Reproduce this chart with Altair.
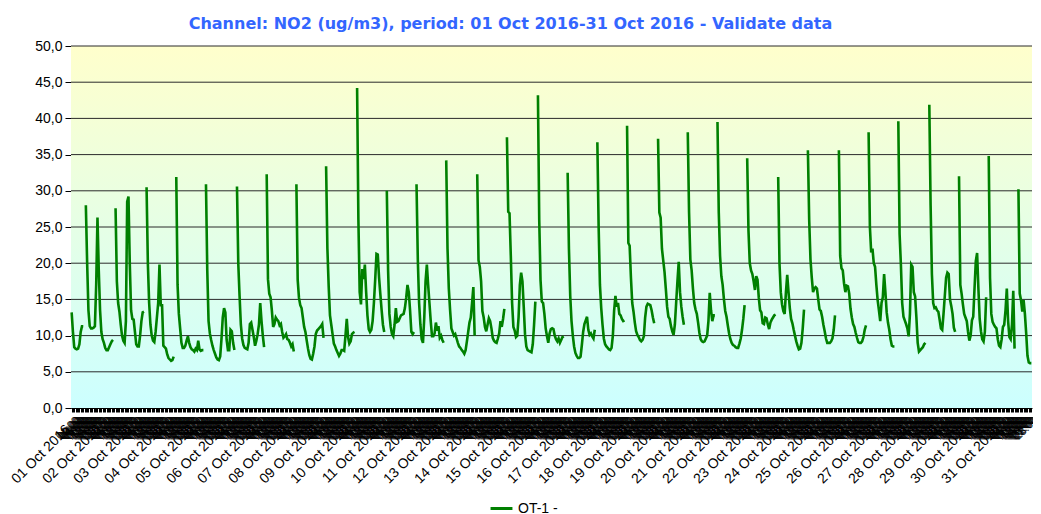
import json
import altair as alt
import pandas as pd

TITLE = "Channel: NO2 (ug/m3), period: 01 Oct 2016-31 Oct 2016 - Validate data"
SERIES = "OT-1 -"
N = None

# hourly NO2 values (ug/m3), one list of 24 hours per day; None = missing hour
d01 = [13.2, 10.5, 8.4, 8.2, 8.1, 8.2, 8.8, 10.5, 11.3, 11.3, N, 28.0, 20.0, 13.5, 11.3, 11.0, 11.0, 11.1, 11.3, 17.0, 26.3, 19.0, 13.5, 10.5]
d02 = [9.5, 9.0, 8.3, 8.0, 8.0, 8.4, 8.8, 9.2, 9.4, N, 27.6, 17.5, 14.5, 13.3, 11.5, 10.0, 9.3, 9.0, 12.0, 28.5, 29.2, 20.0, 13.5, 12.3]
d03 = [12.2, 10.5, 8.8, 8.5, 8.5, 10.0, 12.0, 13.2, 13.3, N, 30.5, 20.0, 14.5, 11.5, 10.0, 9.3, 9.1, 10.5, 12.5, 14.5, 19.8, 14.2, 14.2, 8.6]
d04 = [8.4, 8.2, 7.4, 6.9, 6.7, 6.5, 6.6, 7.1, N, 31.9, 17.0, 13.0, 11.0, 9.0, 8.3, 8.3, 8.6, 9.3, 9.9, 9.0, 8.4, 8.1, 8.0, 7.8]
d05 = [8.2, 8.0, 9.3, 8.1, 7.9, 8.0, 8.0, N, 30.9, 19.0, 12.0, 10.3, 9.4, 8.6, 8.0, 7.5, 7.0, 6.7, 6.6, 7.1, 9.5, 12.5, 13.8, 13.2]
d06 = [9.4, 8.0, 8.0, 10.8, 10.6, 9.0, 8.0, N, 30.6, 20.0, 15.5, 11.5, 9.6, 8.7, 8.3, 8.2, 8.1, 9.0, 11.6, 11.8, 10.8, 9.8, 8.6, 9.3]
d07 = [10.2, 11.5, 14.5, 12.0, 10.0, 8.4, N, 32.3, 17.8, 15.8, 15.3, 13.5, 11.2, 11.6, 12.5, 12.2, 12.0, 11.4, 11.6, 10.5, 9.7, 9.9, 10.2, 9.5]
d08 = [9.4, 9.0, 8.5, 8.8, 7.8, N, 30.9, 17.7, 15.2, 14.2, 13.8, 12.5, 11.2, 10.5, 9.3, 8.2, 7.3, 6.8, 6.7, 7.5, 8.5, 10.2, 10.7, 10.9]
d09 = [11.1, 11.3, 11.6, 9.7, N, 33.4, 22.0, 16.8, 12.8, 11.5, 10.2, 8.9, 8.5, 8.0, 7.6, 7.2, 7.5, 8.0, 8.0, 7.9, 10.0, 12.3, 9.8, 8.9]
d10 = [9.2, 10.2, 10.4, 10.5, N, 44.2, 26.0, 16.0, 14.3, 19.2, 17.8, 19.8, 16.0, 12.8, 10.9, 10.5, 10.8, 12.0, 14.5, 17.7, 21.3, 21.2, 18.0, 15.7]
d11 = [13.5, 11.5, 10.5, N, 30.0, 19.0, 13.0, 11.2, 10.2, 9.9, 11.5, 13.8, 11.9, 12.0, 12.4, 12.8, 12.9, 13.0, 13.8, 15.2, 17.0, 16.0, 13.5, 10.5]
d12 = [10.2, 10.5, N, 30.9, 20.5, 14.5, 11.5, 9.5, 9.0, 12.5, 17.5, 19.8, 17.0, 14.5, 12.0, 9.9, 9.9, 10.3, 11.8, 10.7, 11.3, 9.7, 10.0, 9.4]
d13 = [9.0, N, 34.2, 22.0, 16.5, 13.5, 11.0, 10.5, 10.0, 10.2, 9.6, 9.0, 8.5, 8.3, 8.0, 7.8, 7.5, 8.0, 9.2, 10.5, 11.8, 12.5, 14.5, 16.7]
d14 = [10.0, N, 32.3, 20.4, 19.5, 17.5, 13.4, 12.5, 11.2, 10.6, 11.5, 12.4, 12.0, 11.0, 9.7, 9.3, 9.1, 9.0, 9.6, 10.3, 12.0, 11.2, 12.3, 13.7]
d15 = [N, 37.4, 27.1, 26.9, 21.0, 14.5, 11.2, 10.7, 9.8, 10.0, 12.5, 17.0, 18.7, 17.5, 14.0, 10.2, 8.5, 8.0, 7.9, 7.8, 7.7, 8.8, 11.5, 14.7]
d16 = [N, 43.2, 26.0, 17.7, 14.7, 14.5, 13.0, 11.0, 9.9, 9.0, 10.3, 10.9, 11.0, 10.9, 10.0, 9.5, 9.2, 9.6, 9.0, 9.4, 9.8, 9.9, N, N]
d17 = [32.5, 22.0, 15.5, 12.0, 10.0, 8.5, 7.6, 7.2, 6.9, 6.9, 7.1, 8.7, 10.5, 11.6, 12.1, 12.6, 10.8, 10.1, 10.3, 9.9, 9.6, 10.8, N, 36.7]
d18 = [25.0, 17.0, 13.8, 11.5, 9.6, 8.8, 8.5, 8.3, 8.1, 8.0, 8.3, 10.0, 13.5, 15.5, 14.0, 14.5, 13.0, 12.8, 12.3, 12.0, 12.1, N, 39.0, 22.8]
d19 = [22.4, 18.0, 14.5, 13.3, 11.8, 10.6, 10.1, 9.8, 9.4, 9.2, 9.4, 9.9, 12.5, 14.0, 14.4, 14.3, 14.2, 13.5, 12.5, 11.7, N, N, 37.2, 27.0]
d20 = [26.3, 22.0, 20.4, 18.8, 16.5, 14.0, 12.6, 12.3, 11.3, 10.6, 10.1, 11.5, 14.5, 17.5, 20.2, 16.0, 14.0, 12.6, 11.5, N, N, 38.1, 27.0, 20.5]
d21 = [19.0, 16.5, 14.5, 13.6, 13.0, 11.8, 10.4, 9.5, 9.2, 9.1, 9.2, 9.6, 10.0, 12.0, 15.9, 13.5, 12.0, 12.8, 12.8, N, 39.5, 27.0, 21.0, 18.2]
d22 = [17.0, 15.0, 13.4, 12.6, 11.4, 10.3, 9.5, 9.0, 8.7, 8.6, 8.4, 8.3, 8.3, 8.9, 9.6, 10.8, 12.3, 14.2, N, 34.5, 24.5, 20.0, 19.0, 18.5]
d23 = [17.5, 16.3, 18.2, 17.7, 15.2, 13.5, 13.2, 11.7, 11.6, 12.5, 12.4, 11.5, 10.9, 11.8, 12.2, 12.5, 12.8, 12.9, N, 31.9, 20.0, 16.0, 14.3, 13.4]
d24 = [13.0, 16.0, 18.4, 16.0, 13.8, 12.3, 11.7, 10.8, 10.0, 9.2, 8.6, 8.1, 8.2, 9.0, 11.0, 13.6, N, N, 35.6, 26.0, 20.5, 18.0, 16.0, 16.5]
d25 = [16.7, 16.5, 15.0, 13.6, 13.4, 12.6, 11.5, 10.6, 9.6, 9.0, 9.0, 9.0, 9.2, 9.6, 10.8, 12.8, N, N, 35.6, 21.0, 19.3, 19.0, 17.2, 16.0]
d26 = [16.9, 16.8, 15.8, 13.7, 12.5, 11.6, 11.2, 10.4, 9.7, 9.1, 9.0, 9.0, 9.2, 9.8, 10.8, 11.4, N, 38.1, 25.0, 21.5, 22.0, 20.0, 19.5, 17.0]
d27 = [14.9, 13.5, 12.0, 14.5, 15.3, 18.5, 16.0, 13.2, 11.8, 10.8, 9.5, 8.6, 8.5, 8.5, N, N, 39.6, 24.0, 19.8, 14.5, 12.6, 12.1, 11.6, 11.0]
d28 = [9.9, 13.0, 19.8, 19.5, 16.0, 15.4, 12.5, 9.0, 7.8, 8.0, 8.2, 8.4, 8.8, 9.0, N, N, 41.9, 28.0, 18.5, 14.5, 13.8, 13.9, 13.5, 13.3]
d29 = [12.2, 11.0, 10.8, 13.0, 15.5, 18.0, 18.7, 18.5, 15.0, 14.1, 13.0, 11.1, 10.5, N, N, 32.0, 17.0, 15.8, 14.3, 13.0, 12.5, 12.0, 10.5, 9.3]
d30 = [10.0, 12.1, 12.6, 16.5, 20.3, 21.4, 16.5, 12.3, 10.6, 9.5, 9.2, 10.5, 15.3, N, 34.8, 18.0, 13.0, 11.9, 11.5, 11.2, 11.0, 9.5, 8.6, 8.4]
d31 = [9.5, 11.2, 11.5, 13.5, 16.5, 12.0, 9.8, 9.5, 11.5, 16.2, 8.2, N, N, 30.2, 15.8, 14.9, 13.3, 14.9, 13.0, 10.3, 7.2, 6.3, 6.2, 6.2]

days = [d01, d02, d03, d04, d05, d06, d07, d08, d09, d10, d11, d12, d13, d14, d15, d16,
        d17, d18, d19, d20, d21, d22, d23, d24, d25, d26, d27, d28, d29, d30, d31]

# tick labels: a date at each midnight, the clock time at every other hour
day_labels = ["%02d Oct 2016" % (i + 1) for i in range(31)]
hour_labels = ["%02d:00" % h for h in range(24)]
y_ticks = [0, 5, 10, 15, 20, 25, 30, 35, 40, 45, 50]
grid_vals = [5, 10, 15, 20, 25, 30, 35, 40, 45, 50]

# build table: hour index, value, path segment (a new segment after each gap)
rows = []
seg = 0
hour = 0
for day in days:
    for v in day:
        if v is None:
            seg += 1
        else:
            rows.append({"hour": hour, "no2": v, "seg": seg, "series": SERIES})
        hour += 1
df = pd.DataFrame(rows)
n_hours = hour
x_dom = [-0.5, n_hours - 0.5]

label_expr = (
    "datum.value % 24 === 0 ? " + json.dumps(day_labels) + "[floor(datum.value / 24)] : "
    + json.dumps(hour_labels) + "[datum.value % 24]"
)
is_day = "datum.value % 24 === 0"

x_scale = alt.Scale(domain=x_dom, nice=False, zero=False)
y_scale = alt.Scale(domain=[0, 50], nice=False)

x_axis = alt.Axis(
    title=None, values=list(range(n_hours)), labelExpr=label_expr,
    labelAngle=-45, labelOverlap=False, labelFlush=False, labelBound=False,
    labelFontSize={"condition": {"test": is_day, "value": 14}, "value": 11},
    labelPadding={"condition": {"test": is_day, "value": 10}, "value": 2},
    labelOffset={"condition": {"test": is_day, "value": -9}, "value": 0},
    labelColor="black",
    tickSize=4, tickColor="black", domainColor="black", grid=False,
)
y_axis = alt.Axis(
    title=None, values=y_ticks,
    labelExpr="replace(format(datum.value, '.1f'), '.', ',')",
    labelFontSize=14, labelColor="black", labelPadding=3,
    tickSize=6, tickColor="black", domainColor="black", grid=False,
)

bg = alt.Chart(alt.Data(values=[{"k": 1}])).mark_rect(
    fill=alt.LinearGradient(
        gradient="linear",
        stops=[alt.GradientStop(color="#FFFFCC", offset=0),
               alt.GradientStop(color="#CCFFFF", offset=1)],
        x1=0, x2=0, y1=0, y2=1,
    )
).encode(
    x=alt.XDatum(x_dom[0], scale=x_scale, axis=x_axis, type="quantitative"),
    x2=alt.X2Datum(x_dom[1]),
    y=alt.YDatum(0, scale=y_scale, axis=y_axis, type="quantitative"),
    y2=alt.Y2Datum(50),
)

grid = alt.Chart(pd.DataFrame({"v": grid_vals})).mark_rule(color="#2a2a2a", strokeWidth=1).encode(
    y=alt.Y("v:Q", scale=y_scale, axis=y_axis),
    x=alt.XDatum(x_dom[0], scale=x_scale, axis=x_axis, type="quantitative"),
    x2=alt.X2Datum(x_dom[1]),
)

line = alt.Chart(df).mark_line(strokeWidth=2.6).encode(
    x=alt.X("hour:Q", scale=x_scale, axis=x_axis),
    y=alt.Y("no2:Q", scale=y_scale, axis=y_axis),
    detail="seg:N",
    color=alt.Color(
        "series:N",
        scale=alt.Scale(range=["#008000"]),
        legend=alt.Legend(
            title=None, orient="none", legendX=418, legendY=450,
            symbolType="stroke", symbolStrokeWidth=3, symbolSize=480,
            labelFontSize=14, labelColor="black",
        ),
    ),
)

chart = alt.layer(bg, grid, line).properties(
    width=961,
    height=362,
    title=alt.TitleParams(
        TITLE, font="DejaVu Sans", fontSize=16, fontWeight="bold",
        color="#3366FF", anchor="middle", offset=7, dx=-41,
    ),
    autosize=alt.AutoSizeParams(type="none"),
    padding={"left": 63, "top": 38, "right": 1, "bottom": 106},
).configure(font="Liberation Sans").configure_view(stroke=None)

chart.save("out.html", embed_options={"renderer": "svg", "actions": False})
